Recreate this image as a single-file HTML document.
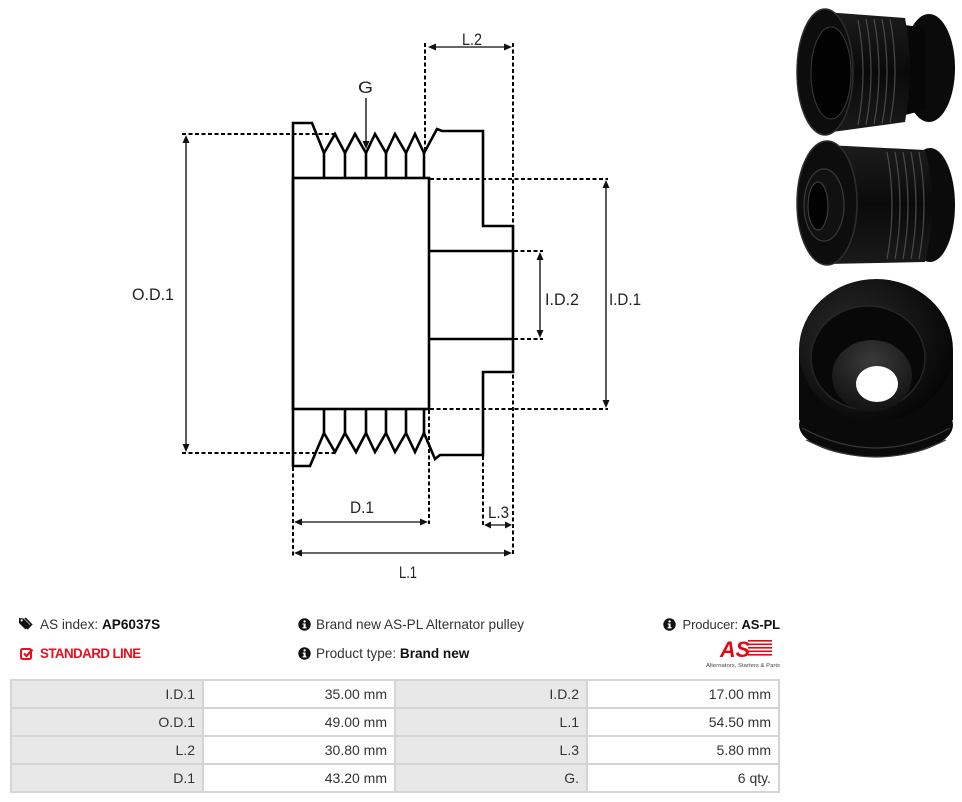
<!DOCTYPE html>
<html><head><meta charset="utf-8"><style>
html,body{margin:0;padding:0;background:#fff;}
body{width:962px;height:802px;position:relative;overflow:hidden;font-family:"Liberation Sans",sans-serif;}
.t{position:absolute;font-size:13.6px;color:#333;white-space:nowrap;line-height:16px;}
.t b{color:#111;}
.grid{position:absolute;left:10px;top:679px;width:770px;height:114px;background:#d4d4d4;}
.c{position:absolute;height:26px;line-height:26px;font-size:14px;color:#333;text-align:right;box-sizing:border-box;padding-right:7px;}
.g{background:#e8e8e8;}
.w{background:#fff;}
</style></head><body>
<svg width="962" height="600" style="position:absolute;left:0;top:0" xmlns="http://www.w3.org/2000/svg">
<defs>
<radialGradient id="rg1" cx="0.35" cy="0.4" r="0.7"><stop offset="0" stop-color="#2a2a2a"/><stop offset="1" stop-color="#050505"/></radialGradient>
<linearGradient id="lg1" x1="0" y1="0" x2="0" y2="1"><stop offset="0" stop-color="#1c1c1c"/><stop offset="0.5" stop-color="#0a0a0a"/><stop offset="1" stop-color="#1a1a1a"/></linearGradient>
<radialGradient id="rg2" cx="0.5" cy="0.3" r="0.8"><stop offset="0" stop-color="#3a3a3a"/><stop offset="1" stop-color="#0c0c0c"/></radialGradient>
</defs>
<!-- main outline -->
<g fill="none" stroke="#000" stroke-width="2.6" stroke-linejoin="miter">
<path d="M293,466 L293,123 L312,123 L324,153 L335,134 L345,153 L355,134 L366,153 L375,134 L386,153 L395,134 L406,153 L415,134 L424,153 L437,129 L442,131 L483,131 L483,226 L513,226 L513,372 L483,372 L483,455 L440,455 L435,459 L424,433 L415,452 L406,433 L395,452 L386,433 L375,452 L366,433 L356,452 L345,433 L335,452 L324,433 L310,466 Z"/>
<rect x="293" y="178" width="136" height="231"/>
<path d="M429,251 L513,251 M429,339 L513,339"/>
<path d="M324,153 V178 M345,153 V178 M366,153 V178 M386,153 V178 M406,153 V178 M424,153 V178"/>
<path d="M324,409 V433 M345,409 V433 M366,409 V433 M386,409 V433 M406,409 V433 M424,409 V433"/>
</g>
<!-- dashed lines -->
<g fill="none" stroke="#000" stroke-width="2" stroke-dasharray="4 2.5">
<path d="M182,134 H336 M182,453 H336"/>
<path d="M430,179 H608 M430,409 H608"/>
<path d="M514,251 H543 M514,339 H543"/>
<path d="M425,43 V153"/>
<path d="M513,43 V556"/>
<path d="M483,456 V527"/>
<path d="M293,467 V556"/>
<path d="M429,410 V524"/>
</g>
<!-- arrows -->
<g stroke="#333" stroke-width="1.6" fill="none">
<path d="M186,140 V447 M606,185 V403 M540,257 V333 M366,98 V143 M433,47 H507 M299,522 H423 M489,525 H507 M299,553 H507"/>
</g>
<g fill="#111">
<polygon points="186,135 182.5,143 189.5,143"/><polygon points="186,452 182.5,444 189.5,444"/>
<polygon points="606,180 602.5,188 609.5,188"/><polygon points="606,408 602.5,400 609.5,400"/>
<polygon points="540,252 536.5,260 543.5,260"/><polygon points="540,338 536.5,330 543.5,330"/>
<polygon points="366,149 362.5,141 369.5,141"/>
<polygon points="428,47 436,43.5 436,50.5"/><polygon points="512,47 504,43.5 504,50.5"/>
<polygon points="294,522 302,518.5 302,525.5"/><polygon points="428,522 420,518.5 420,525.5"/>
<polygon points="484,525 491,521.5 491,528.5"/><polygon points="512,525 505,521.5 505,528.5"/>
<polygon points="294,553 302,549.5 302,556.5"/><polygon points="512,553 504,549.5 504,556.5"/>
</g>
<g font-family="Liberation Sans, sans-serif" font-size="17" fill="#222" text-anchor="start">
<text x="462" y="45" textLength="20" lengthAdjust="spacingAndGlyphs">L.2</text>
<text x="358" y="93" textLength="15" lengthAdjust="spacingAndGlyphs">G</text>
<text x="132" y="300" textLength="42" lengthAdjust="spacingAndGlyphs">O.D.1</text>
<text x="545" y="305" textLength="34" lengthAdjust="spacingAndGlyphs">I.D.2</text>
<text x="609" y="305" textLength="32" lengthAdjust="spacingAndGlyphs">I.D.1</text>
<text x="350" y="513" textLength="24" lengthAdjust="spacingAndGlyphs">D.1</text>
<text x="488" y="518" textLength="21" lengthAdjust="spacingAndGlyphs">L.3</text>
<text x="399" y="578" textLength="18" lengthAdjust="spacingAndGlyphs">L.1</text>
</g>
<!-- photo 1 -->
<g>
<ellipse cx="929" cy="68" rx="26" ry="54" fill="#0b0b0b"/>
<path d="M905,25 L925,28 L925,110 L905,115 Z" fill="#070707"/>
<path d="M825,12 L905,18 Q915,68 905,122 L825,133 Z" fill="url(#lg1)"/>
<g stroke="#4a4a4a" stroke-width="1.2" fill="none">
<path d="M858,20 Q868,72 858,125"/><path d="M866,19 Q876,72 866,125"/><path d="M874,19 Q884,72 874,124"/><path d="M882,19 Q892,72 882,124"/><path d="M890,19 Q900,72 890,123"/>
</g>
<ellipse cx="825" cy="72" rx="28" ry="63" fill="#0d0d0d" stroke="#2e2e2e" stroke-width="1.5"/>
<ellipse cx="831" cy="73" rx="20" ry="46" fill="#020202" stroke="#3a3a3a" stroke-width="1"/>
</g>
<!-- photo 2 -->
<g>
<ellipse cx="930" cy="205" rx="25" ry="57" fill="#0b0b0b"/>
<path d="M827,145 L925,150 Q940,205 925,262 L827,264 Z" fill="url(#lg1)"/>
<g stroke="#4a4a4a" stroke-width="1.2" fill="none">
<path d="M895,152 Q905,205 895,259"/><path d="M903,152 Q913,205 903,259"/><path d="M911,152 Q921,205 911,259"/><path d="M919,152 Q929,205 919,259"/><path d="M887,152 Q897,205 887,259"/>
</g>
<ellipse cx="827" cy="203" rx="30" ry="62" fill="#0d0d0d" stroke="#2e2e2e" stroke-width="1.5"/>
<ellipse cx="824" cy="205" rx="20" ry="36" fill="#111" stroke="#3a3a3a" stroke-width="1.2"/>
<ellipse cx="818" cy="206" rx="10" ry="24" fill="#020202" stroke="#444" stroke-width="1"/>
</g>
<!-- photo 3 -->
<g>
<path d="M799,350 L799,420 Q876,470 953,420 L953,350 Z" fill="#0a0a0a"/>
<ellipse cx="876" cy="425" rx="77" ry="32" fill="#0a0a0a"/>
<path d="M802,428 Q876,468 950,428" stroke="#3a3a3a" stroke-width="1.2" fill="none"/>
<path d="M806,440 Q876,474 946,440" stroke="#3a3a3a" stroke-width="1.2" fill="none"/>
<ellipse cx="876" cy="350" rx="77" ry="71" fill="url(#rg1)"/>
<ellipse cx="868" cy="358" rx="57" ry="52" fill="#080808" stroke="#262626" stroke-width="1.5"/>
<ellipse cx="872" cy="376" rx="40" ry="36" fill="url(#rg2)"/>
<ellipse cx="877" cy="384" rx="21" ry="18" fill="#fff"/>
</g>
</svg>

<!-- info -->
<svg style="position:absolute;left:19px;top:617px" width="15" height="14" viewBox="0 0 15 14"><path d="M0,1 L0,6 L6.5,12.5 L11,8 L4.5,1.5 Z" fill="#111"/><circle cx="2.6" cy="3.4" r="1.1" fill="#fff"/><path d="M6,1 L12.5,7.5 L8,12" stroke="#111" stroke-width="1.6" fill="none"/></svg>
<div class="t" style="left:40px;top:617px">AS index: <b>AP6037S</b></div>
<svg style="position:absolute;left:20px;top:647px" width="14" height="14" viewBox="0 0 14 14"><rect x="1" y="2" width="10" height="10" rx="1.5" fill="none" stroke="#e8101c" stroke-width="2"/><path d="M4,6.5 L6.5,9 L12.5,2.5" stroke="#e8101c" stroke-width="2.2" fill="none"/></svg>
<div class="t" style="left:40px;top:646px;color:#e8101c;font-weight:bold;font-size:13.4px;letter-spacing:-0.6px">STANDARD LINE</div>

<svg style="position:absolute;left:298px;top:618px" width="13" height="13" viewBox="0 0 13 13"><circle cx="6.5" cy="6.5" r="6.2" fill="#111"/><rect x="5.6" y="5.5" width="2" height="4.5" fill="#fff"/><rect x="4.6" y="9.2" width="4" height="1.2" fill="#fff"/><rect x="4.6" y="5.5" width="2" height="1.1" fill="#fff"/><circle cx="6.6" cy="3.4" r="1.2" fill="#fff"/></svg>
<div class="t" style="left:316px;top:617px">Brand new AS-PL Alternator pulley</div>
<svg style="position:absolute;left:298px;top:647px" width="13" height="13" viewBox="0 0 13 13"><circle cx="6.5" cy="6.5" r="6.2" fill="#111"/><rect x="5.6" y="5.5" width="2" height="4.5" fill="#fff"/><rect x="4.6" y="9.2" width="4" height="1.2" fill="#fff"/><rect x="4.6" y="5.5" width="2" height="1.1" fill="#fff"/><circle cx="6.6" cy="3.4" r="1.2" fill="#fff"/></svg>
<div class="t" style="left:316px;top:646px">Product type: <b>Brand new</b></div>

<svg style="position:absolute;left:663px;top:618px" width="13" height="13" viewBox="0 0 13 13"><circle cx="6.5" cy="6.5" r="6.2" fill="#111"/><rect x="5.6" y="5.5" width="2" height="4.5" fill="#fff"/><rect x="4.6" y="9.2" width="4" height="1.2" fill="#fff"/><rect x="4.6" y="5.5" width="2" height="1.1" fill="#fff"/><circle cx="6.6" cy="3.4" r="1.2" fill="#fff"/></svg>
<div class="t" style="left:600px;top:617px;width:180px;text-align:right;font-size:13px;letter-spacing:-0.1px">Producer: <b>AS-PL</b></div>

<svg style="position:absolute;left:700px;top:636px" width="82" height="36" viewBox="0 0 82 36">
<g fill="#e30613">
<rect x="48" y="4" width="24" height="1.6"/><rect x="48" y="7.5" width="24" height="1.6"/><rect x="48" y="11" width="24" height="1.6"/><rect x="48" y="14.5" width="24" height="1.6"/><rect x="48" y="18" width="24" height="1.6"/>
<text x="20" y="21" font-family="Liberation Sans, sans-serif" font-size="22" font-weight="bold" font-style="italic" textLength="30" lengthAdjust="spacingAndGlyphs">AS</text>
</g>
<text x="6" y="31" font-family="Liberation Sans, sans-serif" font-size="5.6" fill="#444" textLength="74" lengthAdjust="spacingAndGlyphs">Alternators, Starters &amp; Parts</text>
</svg>

<!-- table -->
<div class="grid">
<div class="c g" style="left:2px;top:2px;width:190px">I.D.1</div>
<div class="c w" style="left:194px;top:2px;width:190px">35.00 mm</div>
<div class="c g" style="left:386px;top:2px;width:190px">I.D.2</div>
<div class="c w" style="left:578px;top:2px;width:190px">17.00 mm</div>

<div class="c g" style="left:2px;top:30px;width:190px">O.D.1</div>
<div class="c w" style="left:194px;top:30px;width:190px">49.00 mm</div>
<div class="c g" style="left:386px;top:30px;width:190px">L.1</div>
<div class="c w" style="left:578px;top:30px;width:190px">54.50 mm</div>

<div class="c g" style="left:2px;top:58px;width:190px">L.2</div>
<div class="c w" style="left:194px;top:58px;width:190px">30.80 mm</div>
<div class="c g" style="left:386px;top:58px;width:190px">L.3</div>
<div class="c w" style="left:578px;top:58px;width:190px">5.80 mm</div>

<div class="c g" style="left:2px;top:86px;width:190px">D.1</div>
<div class="c w" style="left:194px;top:86px;width:190px">43.20 mm</div>
<div class="c g" style="left:386px;top:86px;width:190px">G.</div>
<div class="c w" style="left:578px;top:86px;width:190px">6 qty.</div>
</div>
</body></html>
